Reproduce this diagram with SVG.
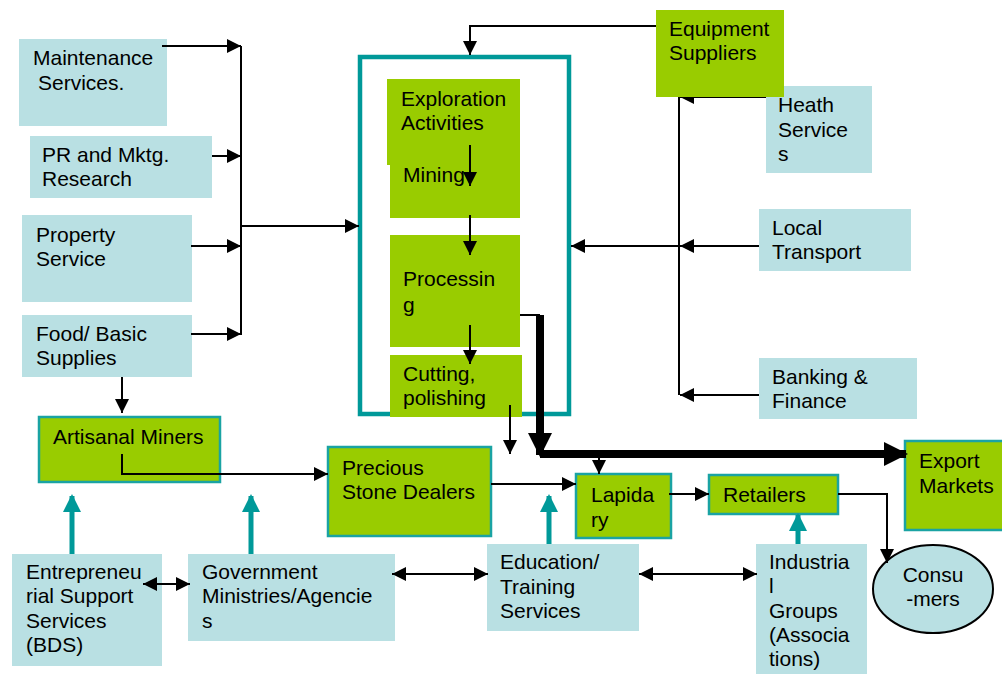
<svg xmlns="http://www.w3.org/2000/svg" width="1002" height="674" viewBox="0 0 1002 674">
  <style>
    .blue { fill: #B9E0E3; }
    .green { fill: #99CC00; }
    .greenb { fill: #99CC00; stroke: #1AA3A3; stroke-width: 2.5; }
    .frame { fill: none; stroke: #009999; stroke-width: 4.5; }
    text { font-family: "Liberation Sans", Arial, sans-serif; font-size: 21px; fill: #000; }
    .ln { fill: none; stroke: #000; stroke-width: 2; }
    .thick { fill: none; stroke: #000; stroke-width: 8; }
    .teal { fill: none; stroke: #009999; stroke-width: 5; }
  </style>
  <defs>
    <marker id="ah" markerUnits="userSpaceOnUse" markerWidth="14" markerHeight="14" refX="14" refY="7" orient="auto-start-reverse">
      <path d="M0,0 L14,7 L0,14 z" fill="#000"/>
    </marker>
    <marker id="ahBig" markerUnits="userSpaceOnUse" markerWidth="24" markerHeight="24" refX="22" refY="12" orient="auto">
      <path d="M0,0 L24,12 L0,24 z" fill="#000"/>
    </marker>
    <marker id="ahTeal" markerUnits="userSpaceOnUse" markerWidth="18" markerHeight="18" refX="16" refY="9" orient="auto">
      <path d="M0,0 L18,9 L0,18 z" fill="#009999"/>
    </marker>
  </defs>

  <rect width="1002" height="674" fill="#fff"/>

  <!-- value chain frame -->
  <rect class="frame" x="360" y="57" width="209" height="357"/>

  <g id="maintenance"><rect class="blue" x="19" y="39" width="148" height="87"/>
    <text x="33" y="65">Maintenance</text><text x="38" y="90">Services.</text></g>
  <g id="pr-research"><rect class="blue" x="30" y="136" width="182" height="62"/>
    <text x="42" y="162">PR and Mktg.</text><text x="42" y="186">Research</text></g>
  <g id="property"><rect class="blue" x="22" y="215" width="170" height="87"/>
    <text x="36" y="242">Property</text><text x="36" y="266">Service</text></g>
  <g id="food"><rect class="blue" x="22" y="315" width="170" height="62"/>
    <text x="36" y="341">Food/ Basic</text><text x="36" y="365">Supplies</text></g>

  <g id="exploration"><rect class="green" x="387" y="79" width="133" height="86"/>
    <text x="401" y="106">Exploration</text><text x="401" y="130">Activities</text></g>
  <g id="mining"><rect class="green" x="390" y="150" width="130" height="68"/>
    <text x="403" y="182">Mining</text></g>
  <g id="processing"><rect class="green" x="390" y="235" width="130" height="112"/>
    <text x="403" y="286">Processin</text><text x="403" y="312">g</text></g>
  <g id="cutting"><rect class="green" x="390" y="355" width="132" height="62"/>
    <text x="403" y="381">Cutting,</text><text x="403" y="405">polishing</text></g>

  <g id="heath"><rect class="blue" x="766" y="86" width="106" height="87"/>
    <text x="778" y="112">Heath</text><text x="778" y="137">Service</text><text x="778" y="161">s</text></g>
  <g id="transport"><rect class="blue" x="759" y="209" width="152" height="62"/>
    <text x="772" y="235">Local</text><text x="772" y="259">Transport</text></g>
  <g id="banking"><rect class="blue" x="759" y="358" width="158" height="61"/>
    <text x="772" y="384">Banking &amp;</text><text x="772" y="408">Finance</text></g>

  <g id="artisanal"><rect class="greenb" x="39" y="417" width="181" height="65"/>
    <text x="53" y="444">Artisanal Miners</text></g>
  <g id="dealers"><rect class="greenb" x="328" y="447" width="163" height="89"/>
    <text x="342" y="475">Precious</text><text x="342" y="499">Stone Dealers</text></g>
  <g id="lapidary"><rect class="greenb" x="576" y="474" width="95" height="64"/>
    <text x="591" y="502">Lapida</text><text x="591" y="527">ry</text></g>
  <g id="retailers"><rect class="greenb" x="709" y="475" width="129" height="39"/>
    <text x="723" y="502">Retailers</text></g>
  <g id="export"><rect class="greenb" x="905" y="441" width="100" height="89"/>
    <text x="919" y="468">Export</text><text x="919" y="493">Markets</text></g>
  <g id="consumers"><ellipse cx="933" cy="589" rx="60" ry="44" fill="#B9E0E3" stroke="#000" stroke-width="2"/>
    <text x="933" y="582" text-anchor="middle">Consu</text><text x="933" y="606" text-anchor="middle">-mers</text></g>

  <g id="bds"><rect class="blue" x="12" y="554" width="150" height="112"/>
    <text x="26" y="579">Entrepreneu</text><text x="26" y="603">rial Support</text><text x="26" y="628">Services</text><text x="26" y="652">(BDS)</text></g>
  <g id="government"><rect class="blue" x="188" y="554" width="207" height="87"/>
    <text x="202" y="579">Government</text><text x="202" y="603">Ministries/Agencie</text><text x="202" y="628">s</text></g>
  <g id="education"><rect class="blue" x="487" y="544" width="152" height="87"/>
    <text x="500" y="569">Education/</text><text x="500" y="594">Training</text><text x="500" y="618">Services</text></g>
  <g id="industrial"><rect class="blue" x="756" y="544" width="111" height="130"/>
    <text x="769" y="569">Industria</text><text x="769" y="593">l</text><text x="769" y="618">Groups</text><text x="769" y="642">(Associa</text><text x="769" y="666">tions)</text></g>

  <g id="connectors">
    <!-- support services feeding the chain -->
    <path class="ln" d="M162,46 H241" marker-end="url(#ah)"/>
    <path class="ln" d="M212,156 H241" marker-end="url(#ah)"/>
    <path class="ln" d="M191,246 H241" marker-end="url(#ah)"/>
    <path class="ln" d="M191,334 H241" marker-end="url(#ah)"/>
    <path class="ln" d="M241,46 V335"/>
    <path class="ln" d="M241,226 H359" marker-end="url(#ah)"/>
    <path class="ln" d="M122,377 V413" marker-end="url(#ah)"/>

    <!-- right-hand services -->
    <path class="ln" d="M656,26 H470 V55" marker-end="url(#ah)"/>
    <path class="ln" d="M766,97 H680" marker-end="url(#ah)"/>
    <path class="ln" d="M679,97 V395"/>
    <path class="ln" d="M759,246 H680" marker-end="url(#ah)"/>
    <path class="ln" d="M679,246 H571" marker-end="url(#ah)"/>
    <path class="ln" d="M759,395 H680" marker-end="url(#ah)"/>

    <!-- chain stages -->
    <path class="ln" d="M470,145 V186" marker-end="url(#ah)"/>
    <path class="ln" d="M470,215 V255" marker-end="url(#ah)"/>
    <path class="ln" d="M470,325 V364" marker-end="url(#ah)"/>
    <path class="ln" d="M510,405 V454" marker-end="url(#ah)"/>

    <!-- export flow -->
    <path class="ln" d="M520,315 H540"/>
    <path class="thick" d="M540,315 V455" marker-end="url(#ahBig)"/>
    <path class="thick" d="M540,454 H906" marker-end="url(#ahBig)"/>
    <path class="ln" d="M599,458 V474" marker-end="url(#ah)"/>

    <!-- domestic flow -->
    <path class="ln" d="M122,454 V474 H328" marker-end="url(#ah)"/>
    <path class="ln" d="M491,484 H576" marker-end="url(#ah)"/>
    <path class="ln" d="M669,494 H709" marker-end="url(#ah)"/>
    <path class="ln" d="M838,494 H887 V563" marker-end="url(#ah)"/>

    <!-- institutional support -->
    <path class="teal" d="M72,554 V496" marker-end="url(#ahTeal)"/>
    <path class="teal" d="M251,554 V496" marker-end="url(#ahTeal)"/>
    <path class="teal" d="M549,544 V496" marker-end="url(#ahTeal)"/>
    <path class="teal" d="M798,544 V515" marker-end="url(#ahTeal)"/>

    <path class="ln" d="M143,584 H190" marker-start="url(#ah)" marker-end="url(#ah)"/>
    <path class="ln" d="M392,574 H488" marker-start="url(#ah)" marker-end="url(#ah)"/>
    <path class="ln" d="M639,574 H757" marker-start="url(#ah)" marker-end="url(#ah)"/>
  </g>

  <g id="equipment"><rect class="green" x="656" y="10" width="128" height="87"/>
    <text x="669" y="36">Equipment</text><text x="669" y="60">Suppliers</text></g>
</svg>
